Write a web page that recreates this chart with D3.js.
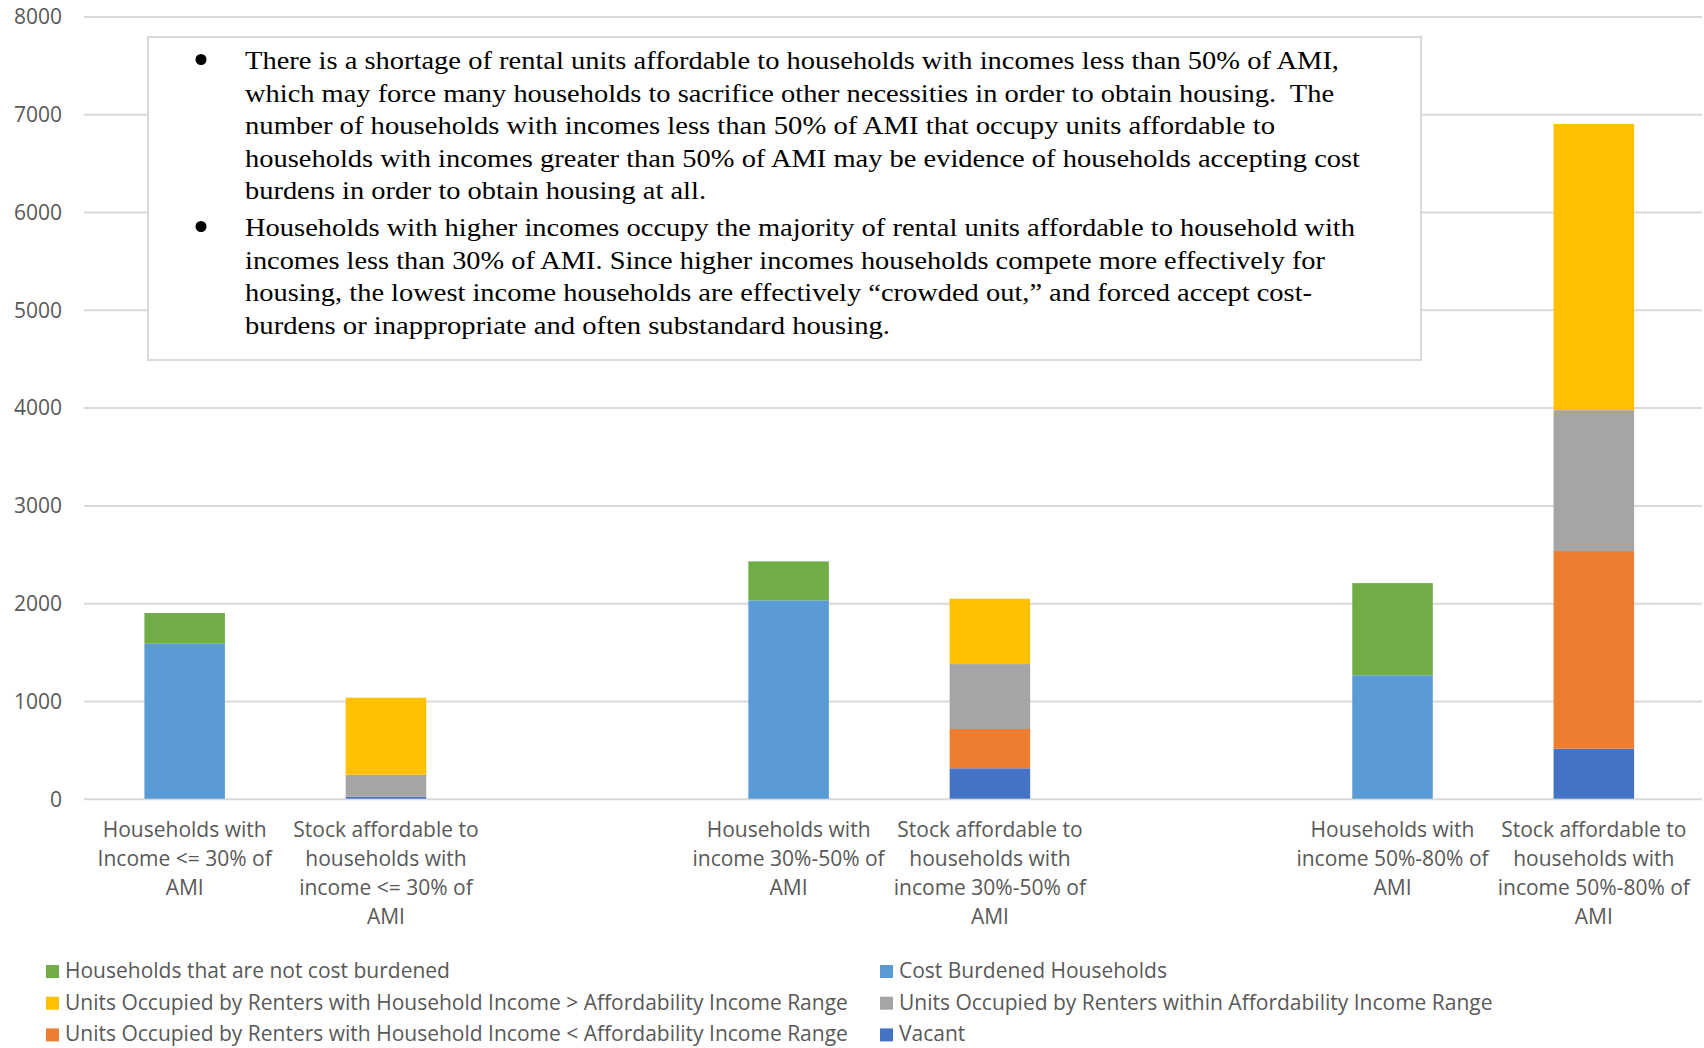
<!DOCTYPE html>
<html>
<head>
<meta charset="utf-8">
<title>Rental affordability</title>
<script src="https://d3js.org/d3.v7.min.js"></script>
<style>
body { margin: 0; background: #fff; }
.gridlines line { stroke: #d9d9d9; stroke-width: 2px; }
.gridlines .domain { stroke: none; }
.y.axis .domain, .y.axis line { stroke: none; }
.y.axis text, .x.label, .legend text {
  font-family: "Open Sans", sans-serif;
  font-size: 21px;
  fill: #595959;
}
.note text { font-family: "Liberation Serif", serif; font-size: 26px; fill: #000; white-space: pre; }
</style>
</head>
<body>
<svg id="chart" width="1704" height="1048"></svg>
<script>

// data
const tickLabels = [
  ["Households with", "Income <= 30% of", "AMI"],
  ["Stock affordable to", "households with", "income <= 30% of", "AMI"],
  [],
  ["Households with", "income 30%-50% of", "AMI"],
  ["Stock affordable to", "households with", "income 30%-50% of", "AMI"],
  [],
  ["Households with", "income 50%-80% of", "AMI"],
  ["Stock affordable to", "households with", "income 50%-80% of", "AMI"]
];
const vacant       = [0,   20, 0, 0,    311, 0, 0,    511];
const belowRange   = [0,    0, 0, 0,    402, 0, 0,   2022];
const withinRange  = [0,  225, 0, 0,    664, 0, 0,   1441];
const aboveRange   = [0,  788, 0, 0,    668, 0, 0,   2926];
const costBurdened = [1585, 0, 0, 2029,   0, 0, 1262,   0];
const notBurdened  = [314,  0, 0, 398,    0, 0, 943,    0];
const yTicks = [0, 1000, 2000, 3000, 4000, 5000, 6000, 7000, 8000];

const noteLines = [
  ["There is a shortage of rental units affordable to households with incomes less than 50% of AMI,",
   "which may force many households to sacrifice other necessities in order to obtain housing.  The",
   "number of households with incomes less than 50% of AMI that occupy units affordable to",
   "households with incomes greater than 50% of AMI may be evidence of households accepting cost",
   "burdens in order to obtain housing at all."],
  ["Households with higher incomes occupy the majority of rental units affordable to household with",
   "incomes less than 30% of AMI. Since higher incomes households compete more effectively for",
   "housing, the lowest income households are effectively \u201ccrowded out,\u201d and forced accept cost-",
   "burdens or inappropriate and often substandard housing."]
];

const series = [
  {key: "vacant", name: "Vacant", color: "#4472C4", values: vacant},
  {key: "below", name: "Units Occupied by Renters with Household Income < Affordability Income Range", color: "#ED7D31", values: belowRange},
  {key: "within", name: "Units Occupied by Renters within Affordability Income Range", color: "#A5A5A5", values: withinRange},
  {key: "above", name: "Units Occupied by Renters with Household Income > Affordability Income Range", color: "#FFC000", values: aboveRange},
  {key: "burdened", name: "Cost Burdened Households", color: "#5B9BD5", values: costBurdened},
  {key: "notburdened", name: "Households that are not cost burdened", color: "#70AD47", values: notBurdened}
];
// legend order as in the picture (two columns)
const legendOrder = ["notburdened", "burdened", "above", "within", "below", "vacant"];

const svg = d3.select("svg#chart");
const margin = {top: 16.5, left: 84, right: 9.5, bottom: 249.3};
const width = +svg.attr("width");
const height = +svg.attr("height");
const chartWidth = width - margin.left - margin.right;
const chartHeight = height - margin.top - margin.bottom;
const gridWidth = width - 2 - margin.left;

// build the table for d3.stack
const table = tickLabels.map((t, i) => {
  const row = {idx: i};
  series.forEach(s => row[s.key] = s.values[i]);
  return row;
});
const stacked = d3.stack().keys(series.map(s => s.key))(table);

const xScale = d3.scaleBand().domain(d3.range(tickLabels.length))
  .range([0, chartWidth]).paddingInner(0.6).paddingOuter(0.3);
const yScale = d3.scaleLinear().domain([0, 8000]).range([chartHeight, 0]);

const plot = svg.append("g").attr("transform", `translate(${margin.left},${margin.top})`);

// gridlines
plot.append("g").attr("class", "gridlines")
  .call(d3.axisLeft(yScale).tickValues(yTicks).tickSize(-gridWidth).tickFormat(""));

// y axis labels
plot.append("g").attr("class", "y axis")
  .attr("transform", "translate(-15,0)")
  .call(d3.axisLeft(yScale).tickValues(yTicks).tickSize(0).tickPadding(7).tickFormat(d3.format("d")))
  .selectAll("text").attr("dy", "0.35em");

// bars
const colorOf = {};
series.forEach(s => colorOf[s.key] = s.color);
plot.selectAll("g.layer").data(stacked).enter().append("g")
  .attr("class", "layer")
  .attr("fill", d => colorOf[d.key])
  .selectAll("rect").data(d => d.filter(p => p[1] > p[0])).enter().append("rect")
  .attr("x", d => xScale(d.data.idx))
  .attr("y", d => yScale(d[1]))
  .attr("height", d => yScale(d[0]) - yScale(d[1]))
  .attr("width", xScale.bandwidth());

// category labels under the bars
tickLabels.forEach((lines, i) => {
  const cx = xScale(i) + xScale.bandwidth() / 2;
  lines.forEach((ln, j) => {
    plot.append("text").attr("class", "x label")
      .attr("text-anchor", "middle")
      .attr("x", cx)
      .attr("y", chartHeight + 38 + j * 29)
      .text(ln);
  });
});

// text box with the notes
const note = svg.append("g").attr("class", "note");
note.append("rect").attr("x", 148).attr("y", 37).attr("width", 1273).attr("height", 323)
  .attr("fill", "#fff").attr("stroke", "#d9d9d9").attr("stroke-width", 2);
const lineEnds = [[1339, 1334, 1275, 1360, 706], [1355, 1325, 1312, 890]];
let yy = 69;
noteLines.forEach((para, p) => {
  note.append("circle").attr("cx", 201).attr("cy", yy - 9.5).attr("r", 5.5).attr("fill", "#000");
  para.forEach((ln, j) => {
    note.append("text").attr("x", 245).attr("y", yy)
      .attr("textLength", lineEnds[p][j] - 245)
      .attr("lengthAdjust", "spacingAndGlyphs")
      .text(ln);
    yy += 32.5;
  });
  yy += 4.5;
});

// legend
const legend = svg.append("g").attr("class", "legend");
legendOrder.forEach((k, i) => {
  const s = series.find(d => d.key === k);
  const col = i % 2, row = Math.floor(i / 2);
  const lx = col === 0 ? 46 : 880;
  const ly = 978 + row * 31.7;
  legend.append("rect").attr("x", lx).attr("y", ly - 13).attr("width", 13).attr("height", 13).attr("fill", s.color);
  legend.append("text").attr("x", lx + 19).attr("y", ly).text(s.name);
});

</script>
</body>
</html>
